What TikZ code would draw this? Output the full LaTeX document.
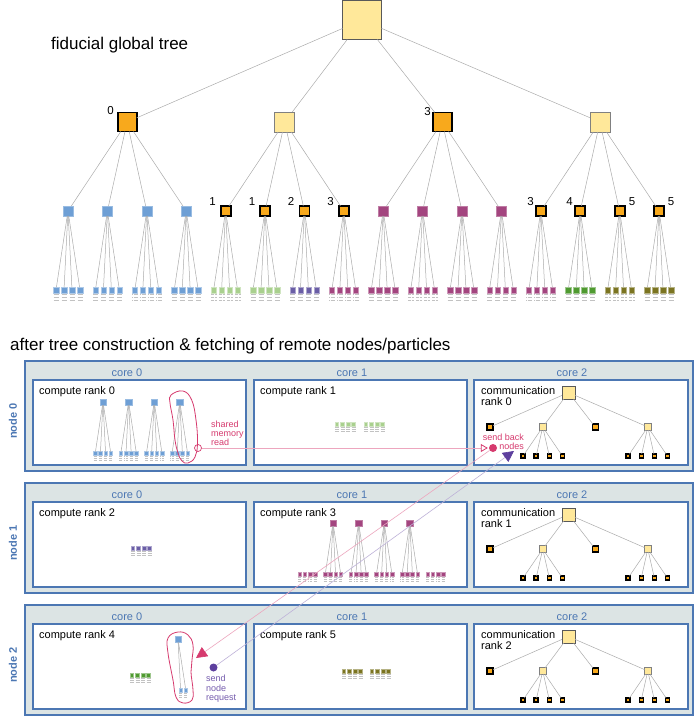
\documentclass[tikz,border=0pt]{standalone}
\usepackage{fontspec}
\setmainfont{Liberation Sans}
\usetikzlibrary{arrows.meta}
\definecolor{cBlue}{HTML}{6E9FD5}
\definecolor{cMag}{HTML}{A3457F}
\definecolor{cPurp}{HTML}{6A5EA6}
\definecolor{cLgreen}{HTML}{A9D08E}
\definecolor{cGreen}{HTML}{4F9A30}
\definecolor{cOlive}{HTML}{7B7421}
\definecolor{cYel}{HTML}{FFE89A}
\definecolor{cOrn}{HTML}{F8A91C}
\definecolor{cFrame}{HTML}{4C77B3}
\definecolor{cBoxfill}{HTML}{DCE4E4}
\definecolor{cCrim}{HTML}{D63A6E}
\definecolor{cViolet}{HTML}{5D3F9E}
\tikzset{
 sq/.style={rectangle, inner sep=0pt, outer sep=0pt},
 lnk/.style={draw=black!33, line width=0.5pt},
 nyel/.style={sq, fill=cYel, draw=black!50, line width=0.8pt},
 norn/.style={sq, fill=cOrn, draw=black, line width=1.8pt},
 nblue/.style={sq, fill=cBlue, draw=cBlue!70!white, line width=0.4pt},
 nmag/.style={sq, fill=cMag, draw=cMag!70!white, line width=0.4pt},
 corn1/.style={sq, fill=cOrn, draw=black, line width=1.5pt, minimum size=6pt},
 cyel1/.style={sq, fill=cYel, draw=black!50, line width=0.6pt, minimum size=6.5pt},
 corn2/.style={sq, fill=cOrn, draw=black, line width=1.4pt, minimum size=4pt},
 ptick/.style={draw=black!24, line width=0.35pt, dash pattern=on 0.6pt off 0.5pt},
 outerbox/.style={draw=cFrame, fill=cBoxfill, line width=1.4pt},
 innerbox/.style={draw=cFrame, fill=white, line width=1.4pt},
 corelbl/.style={text=cFrame, font=\fontsize{11}{13}\selectfont, inner sep=0pt, anchor=base},
 nodelbl/.style={text=cFrame, font=\bfseries\fontsize{11}{13}\selectfont, rotate=90, inner sep=0pt},
 ranklbl/.style={font=\fontsize{11}{13}\selectfont, inner sep=0pt, anchor=base west},
 numlbl/.style={font=\fontsize{11.5}{13}\selectfont, inner sep=0pt},
 ttl/.style={font=\fontsize{17}{20}\selectfont, inner sep=0pt, anchor=base west},
 notelbl/.style={font=\fontsize{9}{9.3}\selectfont, inner sep=0pt, align=left},
 loopline/.style={draw=cCrim, line width=0.8pt},
}
% one leaf with its particle ticks: name, x, y, scale, colour
\newcommand\myleaf[5]{%
  \pgfmathsetmacro\mylsz{5.5*#4}%
  \node[sq, fill=#5, draw=#5!55!white, line width=0.3pt, minimum size=\mylsz pt] (#1) at (#2,#3) {};
  \foreach \k in {1,2,3}{%
    \pgfmathsetmacro\mytya{#3+(1.5+3*\k)*#4}%
    \pgfmathsetmacro\mytxa{#2-2.4*#4}%
    \pgfmathsetmacro\mytxb{#2+2.4*#4}%
    \draw[ptick] (\mytxa,\mytya) -- (\mytxb,\mytya);
  }%
}
% group of four leaves: prefix, x, y, scale, colour
\newcommand\myleafgroup[5]{%
  \foreach \j in {1,2,3,4}{%
    \pgfmathsetmacro\mylxx{#2+(\j-2.5)*8*#4}%
    \myleaf{#1-\j}{\mylxx}{#3}{#4}{#5}%
  }%
}
% subtree: name, x, y, scale, node style, leaf colour
\newcommand\mysubtree[6]{%
  \pgfmathsetmacro\mynsz{10*#4}%
  \node[#5, minimum size=\mynsz pt] (#1) at (#2,#3) {};
  \pgfmathsetmacro\mylyy{#3+79*#4}%
  \myleafgroup{#1}{#2}{\mylyy}{#4}{#6}%
  \foreach \j in {1,2,3,4}{\draw[lnk] (#1) -- (#1-\j);}%
}
% communication rank tree: prefix, dy
\newcommand\mycommtree[2]{%
  \node[nyel, minimum size=13pt, draw=black!65, line width=0.7pt] (#1-r) at (568.5,{392.5+#2}) {};
  \foreach \p/\stl in {0/corn1,1/cyel1,2/corn1,3/cyel1}{%
    \pgfmathsetmacro\mycxx{568.5+(127.1+157.6*\p-362)/3}%
    \node[\stl] (#1-\p) at (\mycxx,{427+#2}) {};
    \draw[lnk] (#1-r) -- (#1-\p);
  }%
  \foreach \p in {1,3}{\foreach \q in {0,1,2,3}{%
    \pgfmathsetmacro\mycxx{568.5+(68+39.4*(4*\p+\q)-362)/3}%
    \node[corn2] (#1-\p-\q) at (\mycxx,{456+#2}) {};
    \draw[lnk] (#1-\p) -- (#1-\p-\q);
  }}%
}
\begin{document}
\begin{tikzpicture}[x=1pt,y=-1pt]
\useasboundingbox (0,0) rectangle (699,717);

% ---------- fiducial global tree ----------
\node[ttl] (title1) at (51,50) {fiducial global tree};
\node[nyel, minimum size=39pt, draw=black!65] (root) at (362,20) {};
\foreach \p/\stl/\sz in {0/norn/19,1/nyel/20,2/norn/19,3/nyel/20}{
  \pgfmathsetmacro\xpos{127.1+157.6*\p}
  \node[\stl, minimum size=\sz pt] (t1-\p) at (\xpos,122) {};
  \draw[lnk] (root) -- (t1-\p);
}
\node[numlbl] (lab1-0) at (110.5,111) {0};
\node[numlbl] (lab1-2) at (427.5,112) {3};

\foreach \i/\stl/\lcol in {0/nblue/cBlue,1/nblue/cBlue,2/nblue/cBlue,3/nblue/cBlue,
  4/norn/cLgreen,5/norn/cLgreen,6/norn/cPurp,7/norn/cMag,
  8/nmag/cMag,9/nmag/cMag,10/nmag/cMag,11/nmag/cMag,
  12/norn/cMag,13/norn/cGreen,14/norn/cOlive,15/norn/cOlive}{
  \pgfmathsetmacro\xpos{68+39.4*\i}
  \pgfmathtruncatemacro\ppar{\i/4}
  \mysubtree{t2-\i}{\xpos}{211}{1}{\stl}{\lcol}
  \draw[lnk] (t1-\ppar) -- (t2-\i);
}
\node[numlbl] (lab2-4) at (212.5,201.5) {1};
\node[numlbl] (lab2-5) at (252,201.5) {1};
\node[numlbl] (lab2-6) at (291,201.5) {2};
\node[numlbl] (lab2-7) at (330.5,201.5) {3};
\node[numlbl] (lab2-12) at (530.5,202) {3};
\node[numlbl] (lab2-13) at (569.5,202) {4};
\node[numlbl] (lab2-14) at (632,202) {5};
\node[numlbl] (lab2-15) at (671,202) {5};

% ---------- after tree construction ----------
\node[ttl] (title2) at (10,350) {after tree construction \& fetching of remote nodes/particles};

\foreach \n/\dy in {0/0,1/122,2/244}{
  \draw[outerbox] (25,{361+\dy}) rectangle (693,{471+\dy});
  \draw[innerbox] (33,{380+\dy}) rectangle (246,{465+\dy});
  \draw[innerbox] (254,{380+\dy}) rectangle (467,{465+\dy});
  \draw[innerbox] (474,{380+\dy}) rectangle (688,{465+\dy});
  \node[corelbl] (core0-\n) at (127,{376+\dy}) {core 0};
  \node[corelbl] (core1-\n) at (352,{376+\dy}) {core 1};
  \node[corelbl] (core2-\n) at (572,{376+\dy}) {core 2};
  \node[nodelbl] (nlab-\n) at (13,{421+\dy}) {node \n};
  \pgfmathtruncatemacro\rka{2*\n}
  \pgfmathtruncatemacro\rkb{2*\n+1}
  \node[ranklbl] (cr-\rka) at (39,{394+\dy}) {compute rank \rka};
  \node[ranklbl] (cr-\rkb) at (260,{394+\dy}) {compute rank \rkb};
  \node[ranklbl] (comA-\n) at (481,{394+\dy}) {communication};
  \node[ranklbl] (comB-\n) at (481,{405.5+\dy}) {rank \n};
  \mycommtree{ct\n}{\dy}
}

% compute rank 0
\foreach \i in {0,...,3}{
  \pgfmathsetmacro\xpos{103+25.6*\i}
  \mysubtree{r0-\i}{\xpos}{402}{0.65}{nblue}{cBlue}
}
% compute rank 1
\myleafgroup{r1a}{345}{424}{0.7}{cLgreen}
\myleafgroup{r1b}{374}{424}{0.7}{cLgreen}
% compute rank 2
\myleafgroup{r2a}{141}{548}{0.7}{cPurp}
% compute rank 3
\foreach \i in {8,...,11}{
  \pgfmathsetmacro\xpos{333+25.6*(\i-8)}
  \mysubtree{r3-\i}{\xpos}{523}{0.65}{nmag}{cMag}
}
\myleafgroup{r3a}{307.4}{574}{0.65}{cMag}
\myleafgroup{r3b}{435.4}{574}{0.65}{cMag}
% compute rank 4
\myleafgroup{r4a}{140}{675}{0.7}{cGreen}
\node[nblue, minimum size=6.5pt] (r4-3) at (178,639) {};
\myleaf{r4-3-3}{180.6}{690}{0.65}{cBlue}
\myleaf{r4-3-4}{185.8}{690}{0.65}{cBlue}
\draw[lnk] (r4-3) -- (r4-3-3);
\draw[lnk] (r4-3) -- (r4-3-4);
% compute rank 5
\myleafgroup{r5a}{352}{671}{0.7}{cOlive}
\myleafgroup{r5b}{380}{671}{0.7}{cOlive}

% ---------- shared memory / communication ----------
\draw[loopline] plot[smooth cycle, tension=0.7] coordinates {(171,395) (183,391) (191.7,400) (196,420) (197.5,443) (195,457) (188,463) (182,461) (178,453) (175,440) (173,420) (170,403)};
\draw[loopline] plot[smooth cycle, tension=0.7] coordinates {(178,632) (188,635) (193,645) (192,660) (191,672) (193,690) (192,700) (183,703) (176,697) (173,680) (168,653) (168,638)};

\node[circle, draw=cCrim, line width=0.7pt, minimum size=7pt, inner sep=0pt] (smr) at (198,448) {};
\node[circle, fill=cCrim, minimum size=8pt, inner sep=0pt] (sbn) at (493,448) {};
\node[circle, fill=cViolet, minimum size=8pt, inner sep=0pt] (snr) at (213.5,667.5) {};
\coordinate (r4tip) at (196,658);
\coordinate (c0tip) at (514,451);

\draw[draw=cCrim!45, line width=0.6pt, -{Triangle[open, length=7pt, width=8pt, color=cCrim, line width=0.8pt]}, shorten >=1pt] (smr) -- (sbn);
\draw[draw=cCrim!45, line width=0.6pt, -{Triangle[length=11pt, width=11pt, color=cCrim]}] (sbn) -- (r4tip);
\draw[draw=cViolet!40, line width=0.6pt, -{Triangle[length=11pt, width=11pt, color=cViolet]}] (snr) -- (c0tip);

\node[notelbl, text=cCrim, anchor=north west] (smrlbl) at (211,420.5) {shared\\memory\\read};
\node[notelbl, text=cCrim, anchor=north east, align=right] (sbnlbl) at (524,433.5) {send back\\nodes};
\node[notelbl, text=cViolet!85!white, anchor=north west] (snrlbl) at (206,675) {send\\node\\request};
\end{tikzpicture}
\end{document}
